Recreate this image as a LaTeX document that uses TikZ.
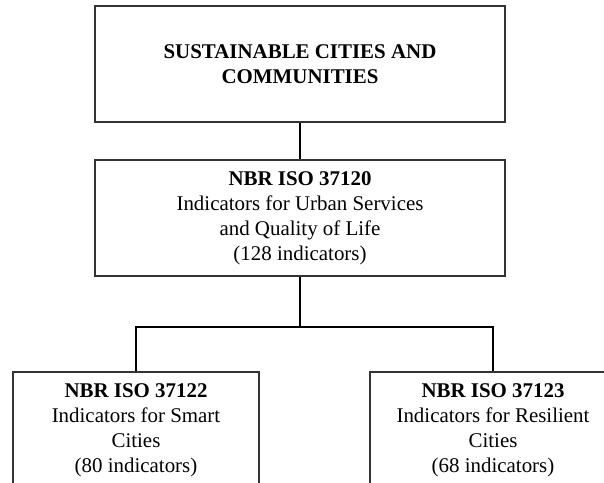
\documentclass[tikz,border=0pt]{standalone}
\usepackage{fontspec}
\setmainfont{Liberation Serif}
\usetikzlibrary{positioning}

\begin{document}
\begin{tikzpicture}[x=1bp, y=-1bp,
        box/.style={draw=black!80, line width=1.2bp, minimum width=#1,
            minimum height=116bp, inner sep=0pt, align=center,
            font=\fontsize{21}{25}\selectfont},
        link/.style={black, line width=2bp}]
            \useasboundingbox (0,0) rectangle (604,483);
            \clip (0,0) rectangle (604,483);
            \node[box=410bp] (sdg) at (300,64)
                {\textbf{SUSTAINABLE CITIES AND}\\\textbf{COMMUNITIES}};
            \node[box=410bp] (iso120) at (300,218)
                {\textbf{NBR ISO 37120}\\Indicators for Urban Services\\and Quality of Life\\(128 indicators)};
            \node[box=246bp] (iso122) at (136,430)
                {\textbf{NBR ISO 37122}\\Indicators for Smart\\Cities\\(80 indicators)};
            \node[box=246bp] (iso123) at (493,430)
                {\textbf{NBR ISO 37123}\\Indicators for Resilient\\Cities\\(68 indicators)};
            \coordinate (split) at (300,327);
            \draw[link] (sdg.south) -- (iso120.north);
            \draw[link] (iso120.south) -- (split);
            \draw[link] (iso122.north) |- (split) -| (iso123.north);
        \end{tikzpicture}
\end{document}
